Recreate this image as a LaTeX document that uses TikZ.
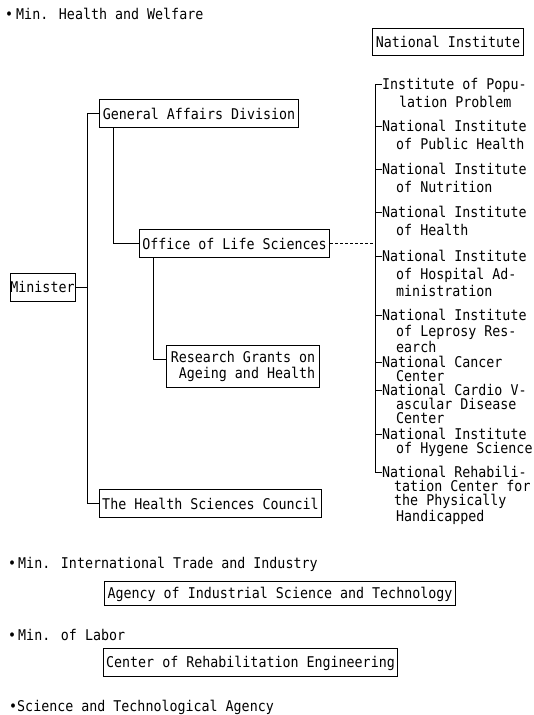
\documentclass[tikz,border=0pt]{standalone}
\usepackage{fontspec}
\newfontfamily\orgfont[FakeStretch=0.9]{DejaVu Sans Mono}
\begin{document}
\begin{tikzpicture}[
    x=1pt,
    y=-1pt,
    every node/.style={font=\orgfont\fontsize{14.8}{16}\selectfont},
    box/.style={
        draw,
        line width=0.8pt,
        inner xsep=3pt,
        inner ysep=0pt,
        minimum height=28pt
    },
    oneline/.style={text height=11pt, text depth=0pt},
    link/.style={line width=0.8pt},
    hint/.style={
        line width=0.8pt,
        dashed,
        dash pattern=on 3pt off 2pt
    },
    head/.style={anchor=base west, inner sep=0pt},
    inst/.style={
        anchor=north west,
        align=left,
        inner sep=0pt,
        font=\orgfont\fontsize{14.8}{#1}\selectfont
    }
]

\useasboundingbox (0,0) rectangle (533,715);

% =========================================================
% Ministry of Health and Welfare
% =========================================================

\node[head] (hw) at (5,19.5) {•\kern3pt Min. Health and Welfare};

\node[box, oneline, minimum height=27pt] (ni) at (448,41.5) {National Institute};

\node[box, oneline] (gad) at (199,113.5) {General Affairs Division};
\node[box, oneline] (ols) at (234.5,243.5) {Office of Life Sciences};
\node[box, oneline, inner xsep=0.5pt] (min) at (42.5,287) {Minister};
\node[box, align=right, minimum height=42pt, inner xsep=4pt]
    (rg) at (243,366) {Research Grants on\\Ageing and Health};
\node[box, oneline] (hsc) at (210.5,503.5) {The Health Sciences Council};

% =========================================================
% Vertical lines of the tree
% =========================================================

\coordinate (trunk)  at (87,0);
\coordinate (gadleg) at (113,0);
\coordinate (olsleg) at (153,0);
\coordinate (brk)    at (375,0);

\draw[link] (gad.west) -- (gad.west -| trunk)
    -- (hsc.west -| trunk) -- (hsc.west);
\draw[link] (min.east) -- (min.east -| trunk);
\draw[link] (gad.south -| gadleg) |- (ols.west);
\draw[link] (ols.south -| olsleg) |- ([yshift=7pt]rg.west);

% dotted link to the institutes
\draw[hint] (ols.east) -- (ols.east -| brk);

% =========================================================
% National institutes (top of first line = tick - 5.7)
% =========================================================

\coordinate (t1)  at (375,84);
\coordinate (t2)  at (375,126);
\coordinate (t3)  at (375,169);
\coordinate (t4)  at (375,212);
\coordinate (t5)  at (375,256);
\coordinate (t6)  at (375,315);
\coordinate (t7)  at (375,362);
\coordinate (t8)  at (375,390);
\coordinate (t9)  at (375,434);
\coordinate (t10) at (375,472);

\node[inst=18] (i1) at (382,78.3)
    {Institute of Popu-\\\hspace*{17pt}lation Problem};
\node[inst=18] (i2) at (382,120.3)
    {National Institute\\\hspace*{14pt}of Public Health};
\node[inst=18] (i3) at (382,163.3)
    {National Institute\\\hspace*{14pt}of Nutrition};
\node[inst=18] (i4) at (382,206.3)
    {National Institute\\\hspace*{14pt}of Health};
\node[inst=17.5] (i5) at (382,250.3)
    {National Institute\\\hspace*{14pt}of Hospital Ad-\\\hspace*{14pt}ministration};
\node[inst=16] (i6) at (382,309.3)
    {National Institute\\\hspace*{14pt}of Leprosy Res-\\\hspace*{14pt}earch};
\node[inst=14] (i7) at (382,356.3)
    {National Cancer\\\hspace*{14pt}Center};
\node[inst=14] (i8) at (382,384.3)
    {National Cardio V-\\\hspace*{14pt}ascular Disease\\\hspace*{14pt}Center};
\node[inst=14] (i9) at (382,428.3)
    {National Institute\\\hspace*{14pt}of Hygene Science};
\node[inst=14] (i10) at (382,466.3)
    {National Rehabili-\\\hspace*{12pt}tation Center for\\\hspace*{12pt}the Physically\\\hspace*{14pt}Handicapped};

\draw[link] (t1) -- (t10);
\foreach \k in {1,...,10}
    \draw[link] (t\k) -- (t\k -| i\k.west);

% =========================================================
% Other ministries
% =========================================================

\node[head] (miti) at (8,568.5) {•\kern2pt Min. International Trade and Industry};
\node[box, oneline, minimum height=24pt] (aist) at (280,593)
    {Agency of Industrial Science and Technology};

\node[head] (mol) at (8,640.5) {•\kern2pt Min. of Labor};
\node[box, oneline] (cre) at (250.5,662) {Center of Rehabilitation Engineering};

\node[head] (sta) at (9,711.5) {•Science and Technological Agency};

\end{tikzpicture}
\end{document}
